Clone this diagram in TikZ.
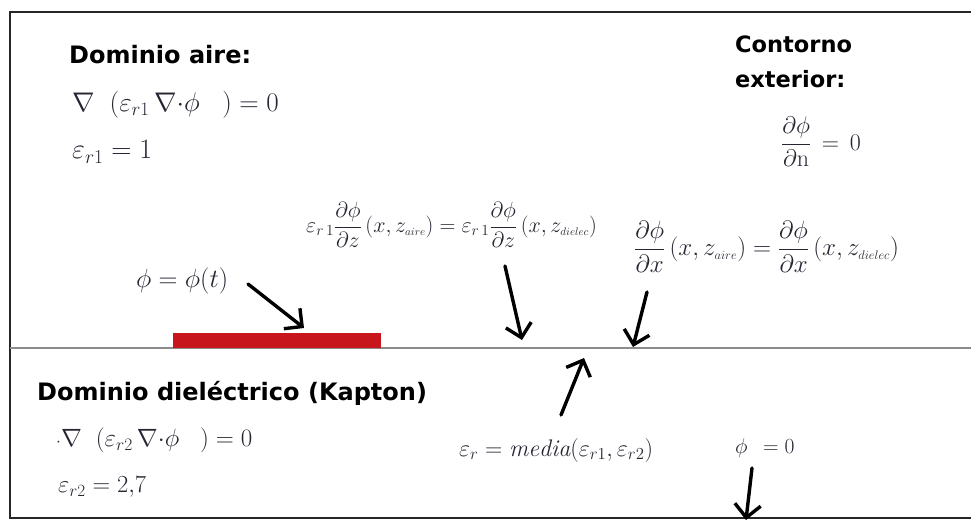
\RequirePackage{fix-cm}
\documentclass[tikz,border=0pt]{standalone}
\usepackage{fontspec}
\usepackage{amsmath}
\usetikzlibrary{arrows.meta}
\newfontfamily\headfont{DejaVu Sans}
\definecolor{eqcol}{HTML}{262633}
\definecolor{barred}{HTML}{C8161D}
\tikzset{
  x=1pt, y=-1pt,
  head/.style={anchor=west, inner sep=0pt, font=\headfont\bfseries\fontsize{24}{30}\selectfont},
  eq/.style={anchor=west, inner sep=0pt, text=eqcol, font=\fontsize{25}{30}\selectfont},
  handarrow/.style={line width=3.4pt, -{Straight Barb[length=13pt,width=26pt]}, line cap=round},
  frameline/.style={line width=2.6pt, black!85},
}
\begin{document}
\begin{tikzpicture}
\useasboundingbox (0,0) rectangle (971,525);
% frame
\draw[frameline] (971,12) -- (10,12) -- (10,518) -- (971,518);
\draw[line width=2pt, black!45] (10,348) -- (971,348);
% red electrode
\fill[barred] (173,333) rectangle (381,348);
% air domain
\node[head] (da) at (69,55) {Dominio aire:};
\node[eq, font=\fontsize{27}{32}\selectfont] (ea1) at (72,105) {$\nabla\;\;(\varepsilon_{r1}\,\nabla{\cdot}\phi\;\;\;) = 0$};
\node[eq, font=\fontsize{28}{32}\selectfont] (ea2) at (72,152) {$\varepsilon_{r1} = 1$};
% outer boundary
\node[head, align=left, font=\headfont\bfseries\fontsize{22.5}{35}\selectfont] (ce) at (735,62) {Contorno\\exterior:};
\node[eq, font=\fontsize{24}{28}\selectfont] (cn) at (781,142) {$\dfrac{\partial\phi}{\partial \mathrm{n}} \mathrel{\,=\,} 0$};
% interface conditions
\node[eq, font=\fontsize{22}{26}\selectfont] (iz) at (306,225) {$\varepsilon_{r\,1}\dfrac{\partial\phi}{\partial z}\,(x,z_{\scriptscriptstyle aire}) = \varepsilon_{r\,1}\dfrac{\partial\phi}{\partial z}\,(x,z_{\scriptscriptstyle dielec})$};
\node[eq, font=\fontsize{25}{30}\selectfont] (ix) at (634,247) {$\dfrac{\partial\phi}{\partial x}\,(x,z_{\scriptscriptstyle aire}) = \dfrac{\partial\phi}{\partial x}\,(x,z_{\scriptscriptstyle dielec})$};
\node[eq, font=\fontsize{26.3}{30}\selectfont] (pt) at (136,281) {$\phi = \phi(t)$};
% dielectric domain
\node[head] (dd) at (37,393) {Dominio diel\'ectrico (Kapton)};
\node[eq] (ed1) at (56,440) {${\scriptstyle\cdot}\nabla\;\;(\varepsilon_{r2}\,\nabla{\cdot}\phi\;\;\;) = 0$};
\node[eq, font=\fontsize{24.5}{28}\selectfont] (ed2) at (58,487) {$\varepsilon_{r2} = 2{,}7$};
\node[eq, font=\fontsize{24}{28}\selectfont] (em) at (459,450) {$\varepsilon_{r} = \mathit{media}(\varepsilon_{r1},\varepsilon_{r2})$};
\node[eq, font=\fontsize{21.5}{25}\selectfont] (pz) at (735,448) {$\phi\;\, = 0$};
% arrow end points
\coordinate (a1s) at (248,284);
\coordinate (a1e) at (304,328);
\coordinate (a2s) at (505,266);
\coordinate (a2e) at (522,340);
\coordinate (a3s) at (647,292);
\coordinate (a3e) at (633,347);
\coordinate (a4s) at (561,415);
\coordinate (a4e) at (584,358);
\coordinate (a5s) at (752,468);
\coordinate (a5e) at (746,520);
\draw[handarrow] (a1s) -- (a1e);
\draw[handarrow] (a2s) -- (a2e);
\draw[handarrow] (a3s) -- (a3e);
\draw[handarrow] (a4s) -- (a4e);
\draw[handarrow] (a5s) -- (a5e);
\end{tikzpicture}
\end{document}
